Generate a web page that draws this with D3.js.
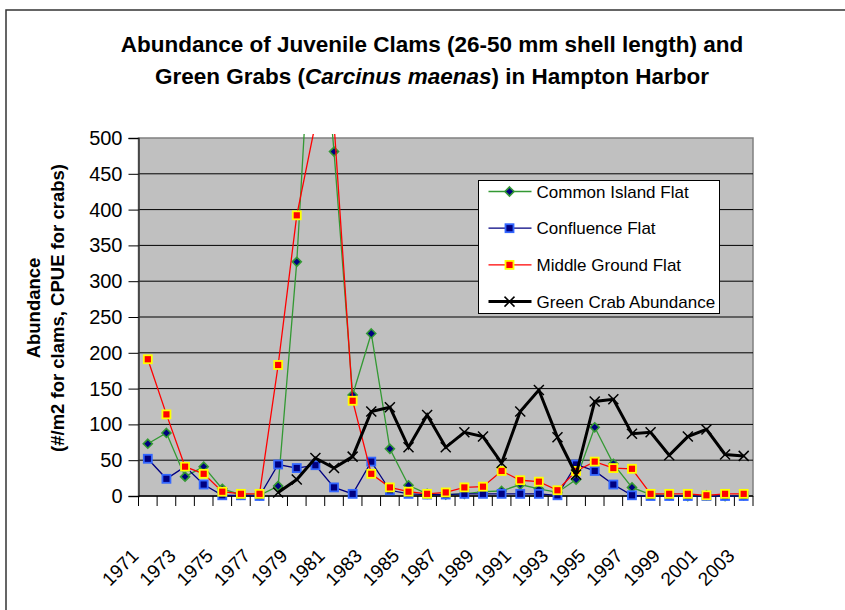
<!DOCTYPE html>
<html>
<head>
<meta charset="utf-8">
<script src="https://cdn.jsdelivr.net/npm/d3@7"></script>
<style>
	body { margin: 0; background: #fff; }
	svg { font-family: 'Liberation Sans', Arial, sans-serif; }
</style>
</head>
<body>
<div class="graphic__chart"></div>
<script>
const years = d3.range(1971, 2004)
const yTicks = [0, 50, 100, 150, 200, 250, 300, 350, 400, 450, 500]
const yearLabels = years.filter((d, i) => i % 2 === 0)

// juvenile clams, #/m2
const commonIsland = [73, 88, 27, 41, 10, 2, 1, 14, 327, 780, 481, 141, 227, 66, 15, 3, 2, 3, 6, 7, 16, 10, 5, 23, 96, 45, 12, 2, 1, 0, 1, 0, 1]
const confluence = [52, 24, 41, 16, 1, 1, 0, 44, 39, 43, 12, 3, 48, 8, 3, 2, 2, 3, 3, 3, 3, 3, 1, 44, 35, 16, 1, 0, 0, 0, 0, 0, 0]
const middleGround = [191, 114, 41, 31, 6, 3, 3, 183, 392, 520, 520, 133, 31, 12, 6, 3, 5, 12, 13, 35, 22, 20, 8, 35, 48, 39, 38, 3, 3, 3, 1, 3, 3]
// green crabs, CPUE
const greenCrab = [null, null, null, null, null, null, null, 5, 23, 53, 39, 55, 118, 124, 68, 113, 68, 89, 83, 46, 118, 148, 82, 30, 132, 135, 87, 89, 57, 83, 93, 58, 56]

const series = [
	{ name: 'Common Island Flat', values: commonIsland, line: '#339933', width: 1.3, marker: 'diamond', fill: '#000080', stroke: '#339933' },
	{ name: 'Confluence Flat', values: confluence, line: '#000080', width: 1.3, marker: 'square', fill: '#000080', stroke: '#3366ff' },
	{ name: 'Middle Ground Flat', values: middleGround, line: '#ff0000', width: 1.3, marker: 'square', fill: '#ff0000', stroke: '#ffff00' },
	{ name: 'Green Crab Abundance', values: greenCrab, line: '#000000', width: 3, marker: 'cross', fill: 'none', stroke: '#000000' }
]

const W = 845
const H = 610
const plot = { left: 138.5, right: 753, top: 138, bottom: 496 }

const svg = d3.select('.graphic__chart').append('svg')
	.attr('width', W)
	.attr('height', H)

// chart area border (right and bottom run off the picture)
svg.append('rect')
	.attr('x', 6).attr('y', 10)
	.attr('width', W + 10).attr('height', H + 10)
	.attr('fill', '#fff')
	.attr('stroke', '#333')
	.attr('stroke-width', 1.5)

const x = d3.scaleBand().domain(years).range([plot.left, plot.right])
const y = d3.scaleLinear().domain([0, 500]).range([plot.bottom, plot.top])
const cx = d => x(d) + x.bandwidth() / 2

// title
const title = svg.append('text')
	.attr('text-anchor', 'middle')
	.attr('font-size', 22.5)
	.attr('font-weight', 'bold')
title.append('tspan').attr('x', 432).attr('y', 52)
	.text('Abundance of Juvenile Clams (26-50 mm shell length) and')
const t2 = title.append('tspan').attr('x', 432).attr('y', 84)
t2.append('tspan').text('Green Grabs (')
t2.append('tspan').attr('font-style', 'italic').text('Carcinus maenas')
t2.append('tspan').text(') in Hampton Harbor')

// plot area
svg.append('rect')
	.attr('x', plot.left).attr('y', plot.top)
	.attr('width', plot.right - plot.left)
	.attr('height', plot.bottom - plot.top)
	.attr('fill', '#c0c0c0')
	.attr('stroke', '#808080')
	.attr('stroke-width', 1.5)

// gridlines
svg.append('g')
	.selectAll('line')
	.data(yTicks.filter(d => d > 0 && d < 500))
	.enter().append('line')
		.attr('x1', plot.left).attr('x2', plot.right)
		.attr('y1', d => y(d)).attr('y2', d => y(d))
		.attr('stroke', '#000')
		.attr('stroke-width', 1)

// y axis
const yAxis = svg.append('g')
	.attr('transform', `translate(${plot.left},0)`)
	.call(d3.axisLeft(y).tickValues(yTicks).tickSize(10).tickPadding(6).tickFormat(d3.format('d')))
yAxis.select('.domain').attr('stroke', '#333').attr('stroke-width', 1.5)
yAxis.selectAll('.tick line').attr('stroke', '#000')
yAxis.selectAll('text')
	.attr('font-size', 20)
	.attr('font-family', "'Liberation Sans', Arial, sans-serif")
	.attr('fill', '#000')

// x axis: ticks on category boundaries
const xg = svg.append('g')
xg.append('line')
	.attr('x1', plot.left).attr('x2', plot.right)
	.attr('y1', plot.bottom).attr('y2', plot.bottom)
	.attr('stroke', '#000').attr('stroke-width', 1.5)
xg.selectAll('.tick')
	.data(years.concat([years[years.length - 1] + 1]))
	.enter().append('line')
		.attr('class', 'tick')
		.attr('x1', d => x(d) !== undefined ? x(d) : plot.right)
		.attr('x2', d => x(d) !== undefined ? x(d) : plot.right)
		.attr('y1', plot.bottom).attr('y2', plot.bottom + 10)
		.attr('stroke', '#000')
xg.selectAll('.label')
	.data(yearLabels)
	.enter().append('text')
		.attr('class', 'label')
		.attr('text-anchor', 'end')
		.attr('font-size', 19)
		.attr('transform', d => `translate(${cx(d) - 8},${plot.bottom + 61}) rotate(-45)`)
		.text(d => d)

// y axis title
const ytitle = svg.append('text')
	.attr('transform', `translate(0,${(plot.top + plot.bottom) / 2 - 9}) rotate(-90)`)
	.attr('text-anchor', 'middle')
	.attr('font-size', 18.5)
	.attr('font-weight', 'bold')
ytitle.append('tspan').attr('x', 0).attr('y', 40).text('Abundance')
ytitle.append('tspan').attr('x', 0).attr('y', 64).text('(#/m2 for clams, CPUE for crabs)')

// lines run a little past the top of the plot, then get cut
svg.append('clipPath').attr('id', 'clip')
	.append('rect')
	.attr('x', 0).attr('y', plot.top - 4)
	.attr('width', W).attr('height', H)

const line = d3.line()
	.defined(d => d.v !== null)
	.x(d => cx(d.year))
	.y(d => y(d.v))

function drawMarker(sel, s) {
	if (s.marker === 'diamond') {
		sel.append('path')
			.attr('d', 'M0,-4.5L4.5,0L0,4.5L-4.5,0Z')
			.attr('fill', s.fill).attr('stroke', s.stroke).attr('stroke-width', 1.6)
	} else if (s.marker === 'square') {
		sel.append('rect')
			.attr('x', -4).attr('y', -4).attr('width', 8).attr('height', 8)
			.attr('fill', s.fill).attr('stroke', s.stroke).attr('stroke-width', 1.8)
	} else {
		sel.append('path')
			.attr('d', 'M-5,-5L5,5M-5,5L5,-5')
			.attr('stroke', s.stroke).attr('stroke-width', 1.5)
	}
}

const gSeries = svg.append('g').attr('clip-path', 'url(#clip)')

series.forEach((s) => {
	const pts = years.map((yr, i) => ({ year: yr, v: s.values[i] }))
	const g = gSeries.append('g')
	g.append('path')
		.datum(pts)
		.attr('d', line)
		.attr('fill', 'none')
		.attr('stroke', s.line)
		.attr('stroke-width', s.width)
		.attr('stroke-linejoin', 'miter')
	g.selectAll('.pt')
		.data(pts.filter(d => d.v !== null))
		.enter().append('g')
			.attr('class', 'pt')
			.attr('transform', d => `translate(${cx(d.year)},${y(d.v)})`)
			.each(function () { drawMarker(d3.select(this), s) })
})

// legend
const legend = svg.append('g').attr('transform', 'translate(478.5,180.5)')
legend.append('rect')
	.attr('width', 241).attr('height', 133)
	.attr('fill', '#fff').attr('stroke', '#000')

const item = legend.selectAll('.item')
	.data(series)
	.enter().append('g')
		.attr('class', 'item')
		.attr('transform', (d, i) => `translate(0,${11 + i * 36.7})`)

item.append('line')
	.attr('x1', 10).attr('x2', 53)
	.attr('stroke', d => d.line)
	.attr('stroke-width', d => d.width)
item.append('g')
	.attr('transform', 'translate(31,0)')
	.each(function (d) { drawMarker(d3.select(this), d) })
item.append('text')
	.attr('x', 58).attr('y', 6)
	.attr('font-size', 17)
	.text(d => d.name)
</script>
</body>
</html>
